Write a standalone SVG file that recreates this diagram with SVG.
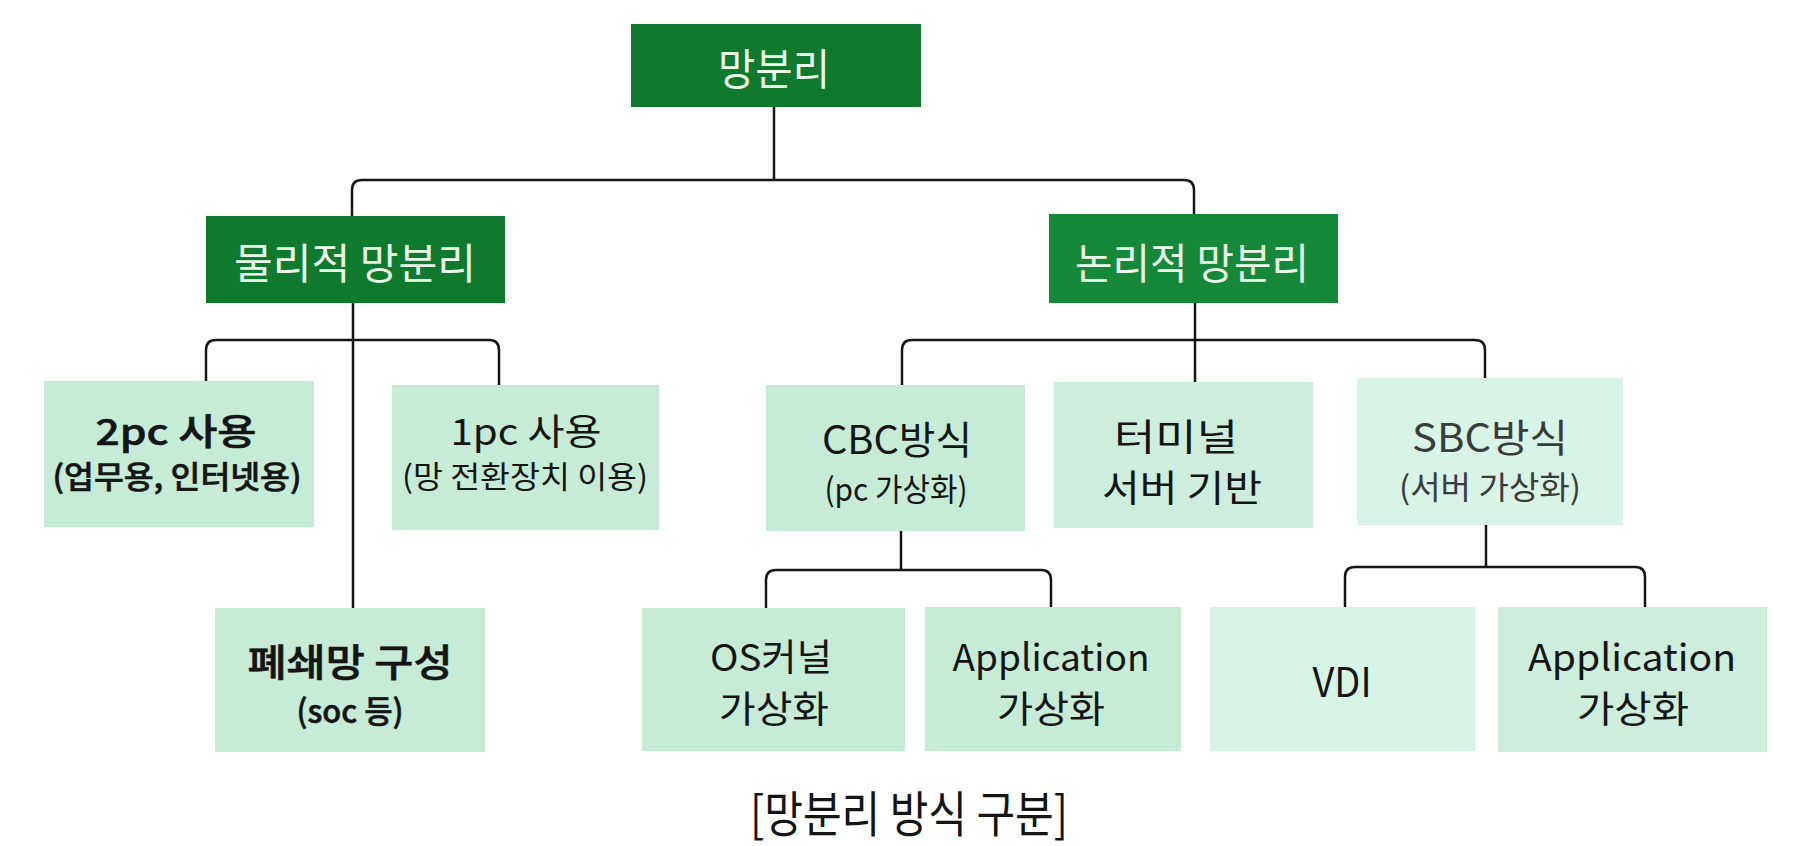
<svg xmlns="http://www.w3.org/2000/svg" width="1811" height="846" viewBox="0 0 1811 846">
<style>
text { font-family: "Noto Sans CJK KR", "Noto Sans", "Liberation Sans", sans-serif; text-anchor: middle; dominant-baseline: central; fill: #151515; }
.dark { fill: #0f7a2e; }
.mid { fill: #16883a; }
.light { fill: #c6ebd6; }
.light2 { fill: #cdeedd; }
.light3 { fill: #d8f4e7; }
.wt { fill: #e8fbe9; }
.b { font-weight: 500; stroke: #151515; stroke-width: 0.6; }
.grey { fill: #3b3b3b; }
.conn { fill: none; stroke: #151515; stroke-width: 2.5; }
</style>
<rect width="1811" height="846" fill="#ffffff"/>

<g id="connectors">
  <path class="conn" d="M774,107 V180"/>
  <path class="conn" d="M352,216 V190 Q352,180 362,180 H1184 Q1194,180 1194,190 V214"/>
  <path class="conn" d="M353,303 V608"/>
  <path class="conn" d="M206,381 V350 Q206,340 216,340 H489 Q499,340 499,350 V385"/>
  <path class="conn" d="M1195,303 V382"/>
  <path class="conn" d="M902,385 V350 Q902,340 912,340 H1475 Q1485,340 1485,350 V378"/>
  <path class="conn" d="M901,531 V570"/>
  <path class="conn" d="M766,608 V580 Q766,570 776,570 H1041 Q1051,570 1051,580 V607"/>
  <path class="conn" d="M1486,525 V567"/>
  <path class="conn" d="M1345,607 V577 Q1345,567 1355,567 H1635 Q1645,567 1645,577 V607"/>
</g>

<g id="root">
  <rect class="dark" x="631" y="24" width="290" height="83"/>
  <text class="wt" x="774" y="66" font-size="43" textLength="112" lengthAdjust="spacingAndGlyphs">망분리</text>
</g>

<g id="physical">
  <rect class="dark" x="206" y="216" width="299" height="87"/>
  <text class="wt" x="355" y="260" font-size="42" textLength="242" lengthAdjust="spacingAndGlyphs">물리적 망분리</text>
</g>

<g id="logical">
  <rect class="mid" x="1049" y="214" width="289" height="89"/>
  <text class="wt" x="1192" y="260" font-size="42" textLength="234" lengthAdjust="spacingAndGlyphs">논리적 망분리</text>
</g>

<g id="pc2">
  <rect class="light" x="44" y="381" width="270" height="146"/>
  <text class="b" x="176" y="429" font-size="36" textLength="161" lengthAdjust="spacingAndGlyphs">2pc 사용</text>
  <text class="b" x="177" y="474" font-size="31" textLength="249" lengthAdjust="spacingAndGlyphs">(업무용, 인터넷용)</text>
</g>

<g id="pc1">
  <rect class="light" x="392" y="385" width="267" height="145"/>
  <text x="526" y="429" font-size="36" textLength="151" lengthAdjust="spacingAndGlyphs">1pc 사용</text>
  <text x="525" y="474" font-size="31" textLength="246" lengthAdjust="spacingAndGlyphs">(망 전환장치 이용)</text>
</g>

<g id="closed">
  <rect class="light" x="215" y="608" width="270" height="144"/>
  <text class="b" x="350" y="659" font-size="38" textLength="205" lengthAdjust="spacingAndGlyphs">폐쇄망 구성</text>
  <text class="b" x="350" y="709" font-size="32" textLength="107" lengthAdjust="spacingAndGlyphs">(soc 등)</text>
</g>

<g id="cbc">
  <rect class="light" x="766" y="385" width="259" height="146"/>
  <text x="897" y="437" font-size="39" textLength="150" lengthAdjust="spacingAndGlyphs">CBC방식</text>
  <text x="896" y="487" font-size="32" textLength="143" lengthAdjust="spacingAndGlyphs">(pc 가상화)</text>
</g>

<g id="terminal">
  <rect class="light2" x="1054" y="382" width="259" height="146"/>
  <text x="1176" y="435" font-size="37" textLength="124" lengthAdjust="spacingAndGlyphs">터미널</text>
  <text x="1182" y="486" font-size="37" textLength="160" lengthAdjust="spacingAndGlyphs">서버 기반</text>
</g>

<g id="sbc">
  <rect class="light3" x="1357" y="378" width="266" height="147"/>
  <text class="grey" x="1490" y="435" font-size="39" textLength="156" lengthAdjust="spacingAndGlyphs">SBC방식</text>
  <text class="grey" x="1490" y="485" font-size="32" textLength="182" lengthAdjust="spacingAndGlyphs">(서버 가상화)</text>
</g>

<g id="os-kernel">
  <rect class="light" x="642" y="608" width="263" height="143"/>
  <text x="771" y="655" font-size="37" textLength="122" lengthAdjust="spacingAndGlyphs">OS커널</text>
  <text x="774" y="707" font-size="37" textLength="110" lengthAdjust="spacingAndGlyphs">가상화</text>
</g>

<g id="cbc-app">
  <rect class="light" x="925" y="607" width="256" height="144"/>
  <text x="1051" y="655" font-size="37" textLength="197" lengthAdjust="spacingAndGlyphs">Application</text>
  <text x="1051" y="707" font-size="37" textLength="108" lengthAdjust="spacingAndGlyphs">가상화</text>
</g>

<g id="vdi">
  <rect class="light3" x="1210" y="607" width="265" height="144"/>
  <text x="1342" y="679" font-size="41" textLength="59" lengthAdjust="spacingAndGlyphs">VDI</text>
</g>

<g id="sbc-app">
  <rect class="light2" x="1498" y="607" width="269" height="145"/>
  <text x="1632" y="655" font-size="37" textLength="208" lengthAdjust="spacingAndGlyphs">Application</text>
  <text x="1633" y="707" font-size="37" textLength="112" lengthAdjust="spacingAndGlyphs">가상화</text>
</g>

<g id="caption">
  <text x="909" y="810" font-size="49" textLength="318" lengthAdjust="spacingAndGlyphs">[망분리 방식 구분]</text>
</g>
</svg>
